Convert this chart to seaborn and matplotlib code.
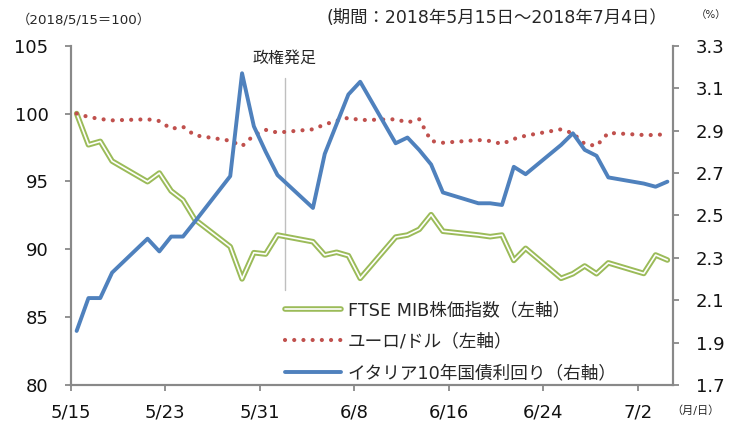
import pandas as pd
import matplotlib.pyplot as plt
import matplotlib.patheffects as pe
import seaborn as sns

# business days (2018)
days = ['05-15', '05-16', '05-17', '05-18', '05-21', '05-22', '05-23', '05-24', '05-25',
        '05-28', '05-29', '05-30', '05-31', '06-01', '06-04', '06-05', '06-06', '06-07',
        '06-08', '06-11', '06-12', '06-13', '06-14', '06-15', '06-18', '06-19', '06-20',
        '06-21', '06-22', '06-25', '06-26', '06-27', '06-28', '06-29', '07-02', '07-03',
        '07-04']

# FTSE MIB (2018/5/15 = 100)
ftse = [100.0, 97.7, 97.95, 96.5, 94.98, 95.62, 94.3, 93.63, 92.2,
        90.19, 87.82, 89.75, 89.65, 91.05, 90.56, 89.58, 89.78, 89.53,
        87.86, 90.9, 91.05, 91.47, 92.55, 91.33, 91.05, 90.93, 91.05,
        89.18, 90.07, 87.86, 88.2, 88.77, 88.2, 89.0, 88.22, 89.58,
        89.21]

# EUR/USD (2018/5/15 = 100)
eur = [100.0, 99.75, 99.6, 99.5, 99.58, 99.45, 98.88, 99.03, 98.4,
       98.0, 97.6, 98.4, 98.8, 98.6, 98.84, 99.2, 99.47, 99.69,
       99.52, 99.58, 99.35, 99.58, 97.98, 97.85, 98.05, 97.98, 97.76,
       98.13, 98.37, 98.84, 98.55, 97.76, 97.62, 98.58, 98.42, 98.42,
       98.5]

# Italy 10Y yield (%)
btp = [1.955, 2.11, 2.11, 2.23, 2.39, 2.33, 2.40, 2.40, 2.47,
       2.685, 3.17, 2.92, 2.80, 2.69, 2.535, 2.79, 2.93, 3.07,
       3.13, 2.84, 2.867, 2.808, 2.74, 2.608, 2.557, 2.557, 2.549,
       2.729, 2.694, 2.832, 2.887, 2.809, 2.781, 2.679, 2.65, 2.635,
       2.659]

labels = ['FTSE MIB株価指数（左軸）', 'ユーロ/ドル（左軸）', 'イタリア10年国債利回り（右軸）']
tick_labels = ['5/15', '5/23', '5/31', '6/8', '6/16', '6/24', '7/2']

start = pd.Timestamp('2018-05-15')
df = pd.DataFrame({'date': pd.to_datetime(['2018-' + d for d in days]) + pd.Timedelta(hours=12),
                   'ftse': ftse, 'eur': eur, 'btp': btp})

sns.set_theme(style='white')
plt.rcParams['font.family'] = ['DejaVu Sans', 'Noto Sans CJK JP']
plt.rcParams['axes.unicode_minus'] = False

green = '#9BBB59'
red = '#C0504D'
blue = '#4F81BD'
grey = '#898989'

fig = plt.figure(figsize=(7.43, 4.26), dpi=100)
ax = fig.add_axes([0.0952, 0.0962, 0.8110, 0.7965])
ax2 = ax.twinx()

sns.lineplot(data=df, x='date', y='ftse', ax=ax, color='white', lw=1.2, legend=False,
             label=labels[0],
             path_effects=[pe.Stroke(linewidth=4.0, foreground=green), pe.Normal()])
sns.lineplot(data=df, x='date', y='eur', ax=ax, color=red, lw=3.0, legend=False,
             label=labels[1], linestyle=(0, (0.01, 2.2)), dash_capstyle='round')
sns.lineplot(data=df, x='date', y='btp', ax=ax2, color=blue, lw=2.8, legend=False,
             label=labels[2])

# 政権発足 marker
vx = start + pd.Timedelta(days=18.1)
ax.plot([vx, vx], [87.0, 102.6], color='#BFBFBF', lw=1.0, zorder=1)
ax.text(vx, 104.1, '政権発足', ha='center', va='center', fontsize=11.5,
        family=['Noto Sans CJK JP', 'DejaVu Sans'])

ax.set_xlim(start, start + pd.Timedelta(days=51))
ticks = pd.date_range(start, periods=7, freq='8D')
ax.set_xticks(ticks)
ax.set_xticklabels(tick_labels)
ax.set_ylim(80, 105)
ax.set_yticks([80, 85, 90, 95, 100, 105])
ax2.set_ylim(1.7, 3.3)
ax2.set_yticks([1.7, 1.9, 2.1, 2.3, 2.5, 2.7, 2.9, 3.1, 3.3])
ax2.set_yticklabels(['%.1f' % v for v in [1.7, 1.9, 2.1, 2.3, 2.5, 2.7, 2.9, 3.1, 3.3]])
ax.set_xlabel('')
ax.set_ylabel('')
ax2.set_ylabel('')

for a in (ax, ax2):
    a.spines['top'].set_visible(False)
    for s in ('left', 'right', 'bottom'):
        a.spines[s].set_color(grey)
        a.spines[s].set_linewidth(1.5)
    a.tick_params(axis='both', which='major', length=4, width=1.3, color=grey,
                  labelsize=13, labelcolor='#111111', direction='out')
ax.tick_params(axis='y', left=True, pad=12)
ax.tick_params(axis='x', bottom=True, pad=9)
ax2.tick_params(axis='y', right=True, pad=12)
ax.grid(False)
ax2.grid(False)

h1, l1 = ax.get_legend_handles_labels()
h2, l2 = ax2.get_legend_handles_labels()
ax2.legend(h1 + h2, l1 + l2, loc='upper left', bbox_to_anchor=(0.3836, 0.294),
           bbox_transform=fig.transFigure, frameon=False, borderaxespad=0, borderpad=0,
           handlelength=3.2, handletextpad=0.35, labelspacing=0.78,
           prop={'size': 12.7, 'family': ['DejaVu Sans', 'Noto Sans CJK JP']})

fig.text(0.022, 0.953, '（2018/5/15＝100）', ha='left', va='center', fontsize=9.6)
fig.text(0.898, 0.957, '(期間：2018年5月15日～2018年7月4日）', ha='right', va='center',
         fontsize=12.5)
fig.text(0.936, 0.965, '（%）', ha='left', va='center', fontsize=7.5)
fig.text(0.903, 0.036, '（月/日）', ha='left', va='center', fontsize=8)

fig.savefig('out.png', dpi=100)
